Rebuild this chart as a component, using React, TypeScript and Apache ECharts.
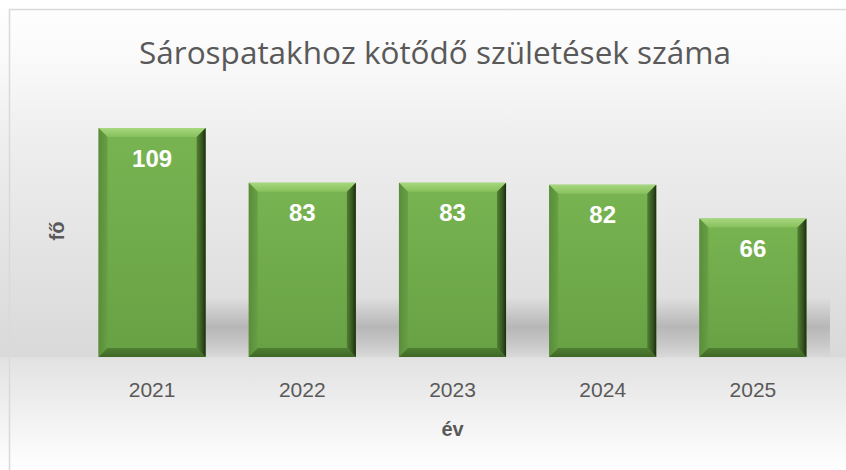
import React, { useEffect, useRef } from "react";
import * as echarts from "echarts";

const categories = ["2021", "2022", "2023", "2024", "2025"];
const births = [109, 83, 83, 82, 66];
const chartTitle = "Sárospatakhoz kötődő születések száma";
const xName = "év";
const yName = "fő";

export default function App() {
  const ref = useRef<HTMLDivElement>(null);
  useEffect(() => {
    document.body.style.margin = "0";
    const chart = echarts.init(ref.current!, null, { renderer: "svg" });
    const LG = echarts.graphic.LinearGradient;
    const renderItem = (params: any, api: any) => {
      const idx = api.value(0);
      const val = api.value(1);
      const top = api.coord([idx, val]);
      const base = api.coord([idx, 0]);
      const band = api.size([1, 0])[0];
      const w = band * 0.713;
      const half = (band - w) / 2;
      const x0 = top[0] - w / 2;
      const x1 = top[0] + w / 2;
      const yt = top[1];
      const yb = base[1];
      const b = 9;
      const last = params.dataIndex === births.length - 1;
      const sx = params.dataIndex === 0 ? x0 : Math.round(x0 - half);
      const ex = last ? x1 + 23.5 : Math.round(x1 + half);
      return {
        type: "group",
        children: [
          {
            type: "rect",
            shape: { x: sx, y: yb - 60, width: ex - sx, height: 60 },
            style: {
              fill: new LG(0, 0, 0, 1, [
                { offset: 0, color: "rgba(0,0,0,0)" },
                { offset: 0.5, color: "rgba(0,0,0,0.17)" },
                { offset: 0.8, color: "rgba(0,0,0,0.08)" },
                { offset: 1, color: "rgba(0,0,0,0)" },
              ]),
            },
            silent: true,
          },
          {
            type: "rect",
            shape: { x: x0, y: yt, width: w, height: yb - yt },
            style: {
              fill: new LG(0, 0, 0, 1, [
                { offset: 0, color: "#79b452" },
                { offset: 1, color: "#67a144" },
              ]),
            },
          },
          {
            type: "polygon",
            shape: { points: [[x0, yt], [x1, yt], [x1 - b, yt + b], [x0 + b, yt + b]] },
            style: {
              fill: new LG(0, 0, 0, 1, [
                { offset: 0, color: "#a6d77d" },
                { offset: 1, color: "#88c05c" },
              ]),
            },
          },
          {
            type: "polygon",
            shape: { points: [[x0, yt], [x0 + b, yt + b], [x0 + b, yb - b], [x0, yb]] },
            style: {
              fill: new LG(0, 0, 1, 0, [
                { offset: 0, color: "#5a8c3a" },
                { offset: 1, color: "#67a044" },
              ]),
            },
          },
          {
            type: "polygon",
            shape: { points: [[x0, yb], [x1, yb], [x1 - b, yb - b], [x0 + b, yb - b]] },
            style: {
              fill: new LG(0, 0, 0, 1, [
                { offset: 0, color: "#4f7f32" },
                { offset: 1, color: "#3f6626" },
              ]),
            },
          },
          {
            type: "polygon",
            shape: { points: [[x1, yt], [x1, yb], [x1 - b, yb - b], [x1 - b, yt + b]] },
            style: {
              fill: new LG(0, 0, 1, 0, [
                { offset: 0, color: "#517f33" },
                { offset: 0.6, color: "#35561f" },
                { offset: 1, color: "#1b2c10" },
              ]),
            },
          },
          {
            type: "text",
            style: {
              text: String(val),
              x: top[0],
              y: yt + 30,
              align: "center",
              verticalAlign: "middle",
              fill: "#ffffff",
              fontSize: 24,
              fontWeight: "bold",
              fontFamily: "Liberation Sans",
            },
          },
        ],
      };
    };
    chart.setOption({
      animation: false,
      graphic: [
        {
          type: "rect",
          z: -10,
          silent: true,
          shape: { x: 0, y: 0, width: 846, height: 470 },
          style: {
            fill: new LG(0, 0, 0, 1, [
              { offset: 0, color: "#ffffff" },
              { offset: 0.1, color: "#fbfbfb" },
              { offset: 0.3, color: "#eeeeee" },
              { offset: 0.759, color: "#d9d9d9" },
              { offset: 0.762, color: "#e2e2e2" },
              { offset: 0.9, color: "#f3f3f3" },
              { offset: 1, color: "#ffffff" },
            ]),
          },
        },
        {
          type: "rect",
          z: 10,
          silent: true,
          shape: { x: 9.5, y: 9.5, width: 860, height: 480 },
          style: { fill: "none", stroke: "#d9d9d9", lineWidth: 1.5 },
        },
        {
          type: "text",
          z: 10,
          x: 435,
          y: 51,
          style: {
            text: chartTitle,
            align: "center",
            verticalAlign: "middle",
            fontFamily: "Open Sans",
            fontSize: 31.5,
            fill: "#595959",
          },
        },
      ],
      grid: { left: 77, right: 18, top: 105, bottom: 113 },
      xAxis: {
        type: "category",
        data: categories,
        axisLine: { show: false },
        axisTick: { show: false },
        axisLabel: {
          margin: 22,
          fontSize: 21,
          color: "#595959",
          fontFamily: "Liberation Sans",
        },
        name: xName,
        nameLocation: "middle",
        nameGap: 62,
        nameTextStyle: {
          fontSize: 20,
          fontWeight: "bold",
          color: "#595959",
          fontFamily: "Liberation Sans",
        },
      },
      yAxis: {
        type: "value",
        min: 0,
        max: 120,
        axisLine: { show: false },
        axisTick: { show: false },
        axisLabel: { show: false },
        splitLine: { show: false },
        name: yName,
        nameLocation: "middle",
        nameRotate: 90,
        nameGap: 10,
        nameTextStyle: {
          fontSize: 20,
          fontWeight: "bold",
          color: "#595959",
          fontFamily: "Liberation Sans",
        },
      },
      series: [
        {
          type: "custom",
          renderItem,
          data: births.map((v, i) => [i, v]),
          encode: { x: 0, y: 1 },
        },
      ],
    });
    return () => chart.dispose();
  }, []);
  return <div ref={ref} style={{ width: 846, height: 470 }} />;
}
